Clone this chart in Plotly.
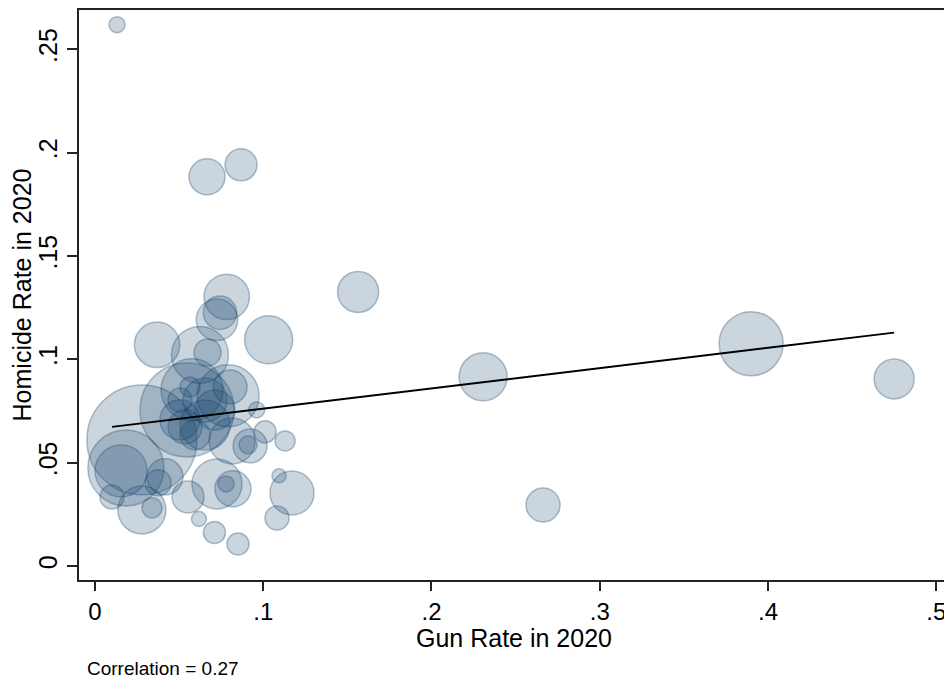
import numpy as np
import plotly.graph_objects as go

# Data
gun_rate = [0.0131, 0.0666, 0.0868, 0.1564, 0.2307, 0.3900, 0.4750, 0.2663,
            0.0369, 0.0624, 0.0669, 0.1032, 0.0783, 0.0743, 0.0725, 0.0279,
            0.0547, 0.0577, 0.0791, 0.0803, 0.0505, 0.0565, 0.0961, 0.1011,
            0.0815, 0.0922, 0.0910, 0.1130, 0.0184, 0.0155, 0.0101, 0.0279,
            0.0339, 0.0416, 0.0375, 0.0553, 0.0725, 0.0779, 0.0820, 0.0618,
            0.0710, 0.0850, 0.1094, 0.1171, 0.1082, 0.0535, 0.0654, 0.0595,
            0.0713, 0.0505, 0.0654]
homicide_rate = [0.2619, 0.1883, 0.1941, 0.1326, 0.0915, 0.1075, 0.0905, 0.0295,
                 0.1070, 0.1021, 0.1033, 0.1094, 0.1302, 0.1225, 0.1191, 0.0610,
                 0.0755, 0.0852, 0.0823, 0.0866, 0.0707, 0.0866, 0.0755, 0.0649,
                 0.0605, 0.0581, 0.0586, 0.0605, 0.0474, 0.0460, 0.0334, 0.0271,
                 0.0281, 0.0431, 0.0402, 0.0334, 0.0397, 0.0397, 0.0373, 0.0227,
                 0.0162, 0.0106, 0.0436, 0.0353, 0.0232, 0.0673, 0.0682, 0.0634,
                 0.0755, 0.0803, 0.0803]
weight = [0.84, 4.23, 3.34, 5.49, 7.52, 13.37, 5.22, 3.77,
          6.73, 10.61, 2.38, 7.52, 6.73, 3.64, 5.60, 39.5,
          28.85, 12.55, 12.55, 3.77, 5.22, 1.31, 0.84, 1.58,
          6.91, 3.77, 1.06, 1.31, 18.86, 8.83, 1.88, 7.52,
          1.31, 4.23, 2.21, 3.34, 8.16, 0.84, 4.23, 0.73,
          1.58, 1.58, 0.64, 6.32, 1.88, 3.77, 8.16, 2.94,
          5.22, 1.88, 6.32]
fit_intercept = 0.0663
fit_slope = 0.0981
correlation = 0.27

x_ticks = [0, 0.1, 0.2, 0.3, 0.4, 0.5]
x_ticktext = ["0", ".1", ".2", ".3", ".4", ".5"]
y_ticks = [0, 0.05, 0.1, 0.15, 0.2, 0.25]
y_ticktext = ["0", ".05", ".1", ".15", ".2", ".25"]

font_family = "Liberation Sans Narrow, Arial Narrow, Liberation Sans, Arial, sans-serif"

sizes = 17.5 * np.sqrt(np.array(weight))

fig = go.Figure()
fig.add_trace(go.Scatter(
    x=gun_rate, y=homicide_rate, mode="markers",
    marker=dict(size=sizes, sizemode="diameter", sizeref=1,
                color="rgba(26,71,111,0.32)",
                line=dict(color="rgba(26,71,111,0.5)", width=1.5)),
    showlegend=False, hoverinfo="x+y"))

fx = np.array([min(gun_rate), max(gun_rate)])
fig.add_trace(go.Scatter(
    x=fx, y=fit_intercept + fit_slope * fx, mode="lines",
    line=dict(color="black", width=2), showlegend=False))

fig.update_layout(
    width=944, height=673,
    margin=dict(l=71, r=4, t=2, b=101),
    paper_bgcolor="white", plot_bgcolor="white",
    font=dict(family=font_family, color="black", size=24),
    annotations=[
        dict(text="Gun Rate in 2020", xref="paper", yref="paper",
             x=0.5, y=-0.101, xanchor="center", yanchor="middle",
             showarrow=False, font=dict(size=25, family=font_family)),
        dict(text=f"Correlation = {correlation}", xref="paper", yref="paper",
             x=0.007, y=-0.156, xanchor="left", yanchor="middle",
             showarrow=False, font=dict(size=19, family=font_family)),
    ],
)
fig.update_xaxes(range=[-0.0095, 0.507], tickvals=x_ticks, ticktext=x_ticktext,
                 automargin=False,
                 showgrid=False, zeroline=False, showline=True, linecolor="#222",
                 linewidth=2, mirror=True, ticks="outside", ticklen=9, tickwidth=1.5,
                 tickcolor="#222", tickfont=dict(size=24))
fig.update_yaxes(range=[-0.0068, 0.269], tickvals=y_ticks, ticktext=y_ticktext,
                 automargin=False,
                 showgrid=False, zeroline=False, showline=True, linecolor="#222",
                 linewidth=2, mirror=True, ticks="outside", ticklen=10, tickwidth=1.5,
                 tickcolor="#222", tickangle=-90, tickfont=dict(size=25),
                 title=dict(text="Homicide Rate in 2020", font=dict(size=25), standoff=6))

fig.write_html("out.html")
